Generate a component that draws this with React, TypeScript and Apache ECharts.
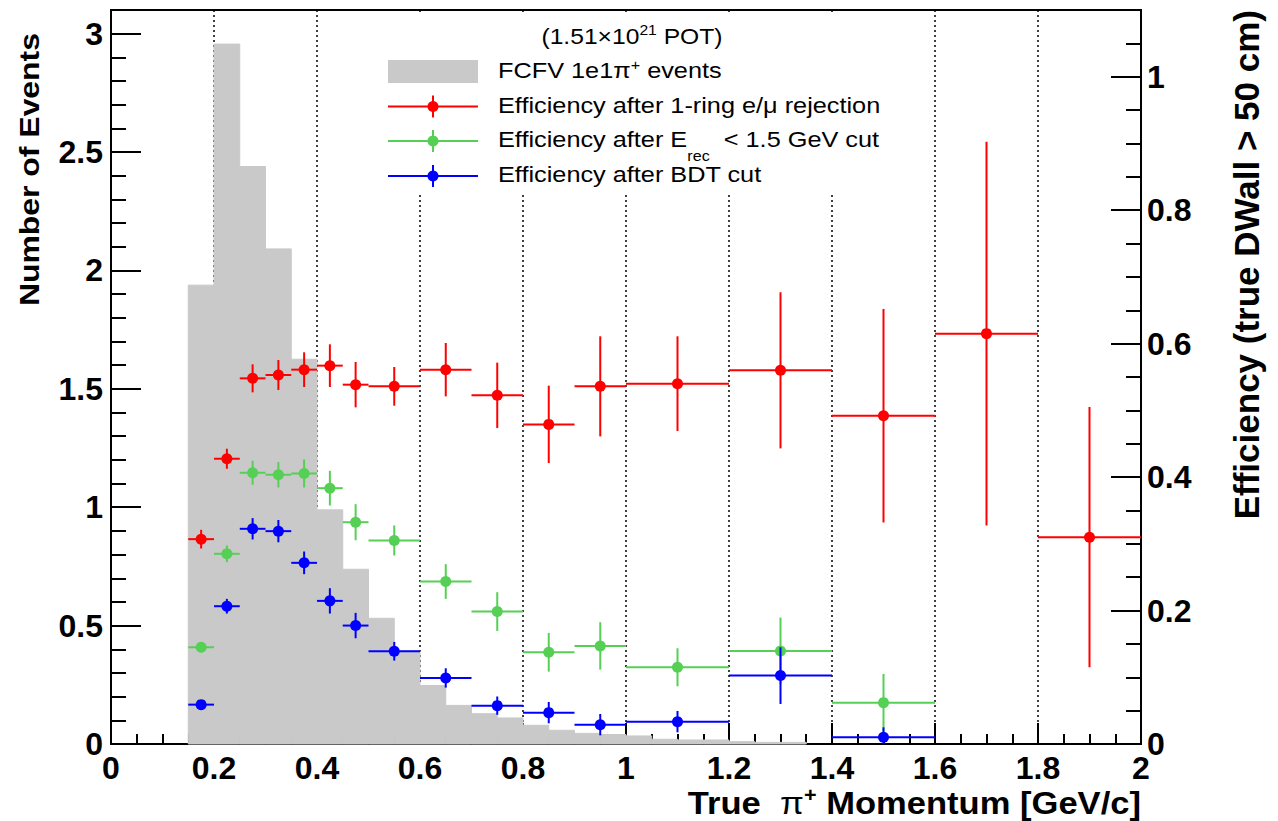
import React, { useEffect, useRef } from "react";
import * as echarts from "echarts";

// FCFV 1e1pi+ event histogram (left axis), 0.05 GeV/c bins
const histEdges = [
  0.15, 0.2, 0.25, 0.3, 0.35, 0.4, 0.45, 0.5, 0.55, 0.6, 0.65, 0.7, 0.75,
  0.8, 0.85, 0.9, 0.95, 1.0, 1.05, 1.1, 1.15, 1.2, 1.25, 1.3, 1.35,
];
const histCounts = [
  1.938, 2.956, 2.439, 2.091, 1.625, 0.989, 0.738, 0.531, 0.393, 0.247, 0.163,
  0.128, 0.11, 0.079, 0.058, 0.045, 0.04, 0.034, 0.02, 0.017, 0.017, 0.01,
  0.007, 0.007,
];

// Efficiency bins (right axis)
const effLow = [0.15, 0.2, 0.25, 0.3, 0.35, 0.4, 0.45, 0.5, 0.6, 0.7, 0.8, 0.9, 1.0, 1.2, 1.4, 1.6, 1.8];
const effHigh = [0.2, 0.25, 0.3, 0.35, 0.4, 0.45, 0.5, 0.6, 0.7, 0.8, 0.9, 1.0, 1.2, 1.4, 1.6, 1.8, 2.0];

// Efficiency after 1-ring e/mu rejection
const effRing = [0.307, 0.4275, 0.548, 0.553, 0.561, 0.567, 0.5385, 0.536, 0.561, 0.5225, 0.479, 0.536, 0.54, 0.56, 0.492, 0.615, 0.31];
const errRing = [0.014, 0.015, 0.021, 0.0225, 0.026, 0.032, 0.034, 0.029, 0.04, 0.049, 0.058, 0.075, 0.071, 0.117, 0.16, 0.2875, 0.195];

// Efficiency after Erec < 1.5 GeV cut
const effErec = [0.145, 0.285, 0.4065, 0.4035, 0.4054, 0.3834, 0.3324, 0.305, 0.2435, 0.1985, 0.1375, 0.147, 0.115, 0.1395, 0.062];
const errErec = [0.0075, 0.0125, 0.018, 0.019, 0.021, 0.026, 0.027, 0.0225, 0.026, 0.029, 0.029, 0.0355, 0.0285, 0.05, 0.043];

// Efficiency after BDT cut
const effBdt = [0.059, 0.2065, 0.3225, 0.319, 0.2715, 0.2145, 0.1775, 0.139, 0.099, 0.0575, 0.047, 0.029, 0.0335, 0.1025, 0.01];
const errBdt = [0.004, 0.011, 0.016, 0.0167, 0.017, 0.019, 0.019, 0.014, 0.0145, 0.0137, 0.016, 0.016, 0.016, 0.0425, 0.015];

const FONT = "'Liberation Sans', Arial, Helvetica, sans-serif";
const RED = "#ff0000";
const GREEN = "#55d055";
const BLUE = "#0000ff";
const GRAY = "#c9c9c9";

const labelStyle = {
  color: "#000",
  fontFamily: FONT,
  fontWeight: "bold" as const,
  fontSize: 32,
};
const blackLine = { color: "#000", width: 2 };

function errorSeries(name: string, vals: number[], errs: number[], color: string) {
  const data = vals.map((v, i) => [effLow[i], effHigh[i], v, errs[i]]);
  return {
    type: "custom",
    name,
    xAxisIndex: 0,
    yAxisIndex: 2,
    data,
    encode: { x: [0, 1], y: [2] },
    renderItem: (_p: any, api: any) => {
      const lo = api.value(0);
      const hi = api.value(1);
      const y = api.value(2);
      const e = api.value(3);
      const xc = (lo + hi) / 2;
      const pl = api.coord([lo, y]);
      const pr = api.coord([hi, y]);
      const pt = api.coord([xc, y + e]);
      const pb = api.coord([xc, Math.max(0, y - e)]);
      const pc = api.coord([xc, y]);
      return {
        type: "group",
        children: [
          { type: "line", shape: { x1: pl[0], y1: pl[1], x2: pr[0], y2: pr[1] }, style: { stroke: color, lineWidth: 2 } },
          { type: "line", shape: { x1: pt[0], y1: pt[1], x2: pb[0], y2: pb[1] }, style: { stroke: color, lineWidth: 2 } },
          { type: "circle", shape: { cx: pc[0], cy: pc[1], r: 5.5 }, style: { fill: color } },
        ],
      };
    },
  };
}

function legendMarker(y: number, color: string) {
  return [
    { type: "line", z: 101, shape: { x1: 388, y1: y, x2: 478, y2: y }, style: { stroke: color, lineWidth: 2 } },
    { type: "line", z: 101, shape: { x1: 433, y1: y - 11, x2: 433, y2: y + 11 }, style: { stroke: color, lineWidth: 2 } },
    { type: "circle", z: 102, shape: { cx: 433, cy: y, r: 5.5 }, style: { fill: color } },
  ];
}

const legendText = {
  fontFamily: FONT,
  fontSize: 22,
  fill: "#000",
  align: "left",
  verticalAlign: "middle",
};

export default function App() {
  const ref = useRef<HTMLDivElement>(null);

  useEffect(() => {
    if (!ref.current) return;
    const chart = echarts.init(ref.current, null, { renderer: "svg" });

    const histData = histCounts.map((c, i) => [histEdges[i], histEdges[i + 1], c]);

    const option: any = {
      animation: false,
      backgroundColor: "#fff",
      grid: {
        left: 111,
        right: 137,
        top: 10,
        bottom: 77,
        show: true,
        borderColor: "#000",
        borderWidth: 2,
        backgroundColor: "transparent",
      },
      xAxis: [
        {
          type: "value",
          min: 0,
          max: 2,
          interval: 0.2,
          axisLine: { show: true, onZero: false, lineStyle: blackLine },
          axisTick: { show: true, inside: true, length: 21, lineStyle: blackLine },
          minorTick: { show: true, splitNumber: 4, length: 10, lineStyle: blackLine },
          axisLabel: { ...labelStyle, margin: 8 },
          splitLine: { show: true, lineStyle: { color: "#000", width: 1.5, type: [2, 3] } },
        },
      ],
      yAxis: [
        {
          type: "value",
          position: "left",
          min: 0,
          max: 3.1,
          interval: 0.5,
          axisLine: { show: true, onZero: false, lineStyle: blackLine },
          axisTick: { show: true, inside: true, length: 30, lineStyle: blackLine },
          axisLabel: { ...labelStyle, margin: 8, showMaxLabel: false },
          splitLine: { show: false },
        },
        {
          type: "value",
          position: "left",
          min: 0,
          max: 3.1,
          interval: 0.1,
          axisLine: { show: false },
          axisTick: { show: true, inside: true, length: 15, lineStyle: blackLine },
          axisLabel: { show: false },
          splitLine: { show: false },
        },
        {
          type: "value",
          position: "right",
          min: 0,
          max: 1.1,
          interval: 0.2,
          axisLine: { show: true, onZero: false, lineStyle: blackLine },
          axisTick: { show: true, inside: true, length: 30, lineStyle: blackLine },
          axisLabel: { ...labelStyle, margin: 6, showMaxLabel: false },
          splitLine: { show: false },
        },
        {
          type: "value",
          position: "right",
          min: 0,
          max: 1.1,
          interval: 0.05,
          axisLine: { show: false },
          axisTick: { show: true, inside: true, length: 15, lineStyle: blackLine },
          axisLabel: { show: false },
          splitLine: { show: false },
        },
      ],
      series: [
        {
          type: "custom",
          name: "FCFV 1e1pi+ events",
          xAxisIndex: 0,
          yAxisIndex: 0,
          data: histData,
          encode: { x: [0, 1], y: [2] },
          renderItem: (_p: any, api: any) => {
            const p0 = api.coord([api.value(0), api.value(2)]);
            const p1 = api.coord([api.value(1), 0]);
            return {
              type: "rect",
              shape: { x: p0[0], y: p0[1], width: p1[0] - p0[0], height: p1[1] - p0[1] },
              style: { fill: GRAY, stroke: GRAY, lineWidth: 1 },
            };
          },
        },
        errorSeries("Efficiency after 1-ring e/mu rejection", effRing, errRing, RED),
        errorSeries("Efficiency after Erec < 1.5 GeV cut", effErec, errErec, GREEN),
        errorSeries("Efficiency after BDT cut", effBdt, errBdt, BLUE),
      ],
      graphic: [
        // legend box
        { type: "rect", z: 100, shape: { x: 378, y: 14, width: 525, height: 180 }, style: { fill: "#fff" } },
        {
          type: "text",
          z: 101,
          x: 632,
          y: 36,
          scaleX: 1.12,
          style: {
            ...legendText,
            align: "center",
            lineHeight: 26,
            text: "(1.51×10{sup|21} POT)",
            rich: { sup: { fontFamily: FONT, fontSize: 14, lineHeight: 14, verticalAlign: "top", fill: "#000" } },
          },
        },
        { type: "rect", z: 101, shape: { x: 388, y: 60, width: 90, height: 23 }, style: { fill: GRAY } },
        {
          type: "text",
          z: 101,
          x: 498,
          y: 71,
          scaleX: 1.15,
          style: {
            ...legendText,
            lineHeight: 26,
            text: "FCFV 1e1π{sup|+} events",
            rich: { sup: { fontFamily: FONT, fontSize: 14, lineHeight: 14, verticalAlign: "top", fill: "#000" } },
          },
        },
        ...legendMarker(106.5, RED),
        {
          type: "text",
          z: 101,
          x: 498,
          y: 105.5,
          scaleX: 1.15,
          style: { ...legendText, text: "Efficiency after 1-ring e/μ rejection" },
        },
        ...legendMarker(141, GREEN),
        {
          type: "text",
          z: 101,
          x: 498,
          y: 140,
          scaleX: 1.15,
          style: {
            ...legendText,
            lineHeight: 46,
            text: "Efficiency after E{sub|rec}  < 1.5 GeV cut",
            rich: { sub: { fontFamily: FONT, fontSize: 14, lineHeight: 14, verticalAlign: "bottom", fill: "#000" } },
          },
        },
        ...legendMarker(176, BLUE),
        {
          type: "text",
          z: 101,
          x: 498,
          y: 175,
          scaleX: 1.15,
          style: { ...legendText, text: "Efficiency after BDT cut" },
        },
        // axis titles
        {
          type: "text",
          z: 101,
          x: 1141,
          y: 803,
          scaleX: 1.08,
          style: {
            fontFamily: FONT,
            fontWeight: "bold",
            fontSize: 32,
            fill: "#000",
            align: "right",
            verticalAlign: "middle",
            lineHeight: 36,
            text: "True  {pi|π}{sup|+} Momentum [GeV/c]",
            rich: {
              pi: { fontFamily: FONT, fontWeight: "normal", fontSize: 32, lineHeight: 36, fill: "#000" },
              sup: { fontFamily: FONT, fontWeight: "bold", fontSize: 20, lineHeight: 20, verticalAlign: "top", fill: "#000" },
            },
          },
        },
        {
          type: "text",
          z: 101,
          x: 29,
          y: 33,
          rotation: Math.PI / 2,
          scaleX: 1.14,
          style: {
            fontFamily: FONT,
            fontWeight: "bold",
            fontSize: 28,
            fill: "#000",
            align: "right",
            verticalAlign: "middle",
            text: "Number of Events",
          },
        },
        {
          type: "text",
          z: 101,
          x: 1246,
          y: 10,
          rotation: Math.PI / 2,
          style: {
            fontFamily: FONT,
            fontWeight: "bold",
            fontSize: 35,
            fill: "#000",
            align: "right",
            verticalAlign: "middle",
            text: "Efficiency (true DWall > 50 cm)",
          },
        },
      ],
    };

    chart.setOption(option);
    return () => chart.dispose();
  }, []);

  return (
    <div
      ref={ref}
      style={{ position: "fixed", left: 0, top: 0, width: 1278, height: 821, background: "#fff" }}
    />
  );
}
